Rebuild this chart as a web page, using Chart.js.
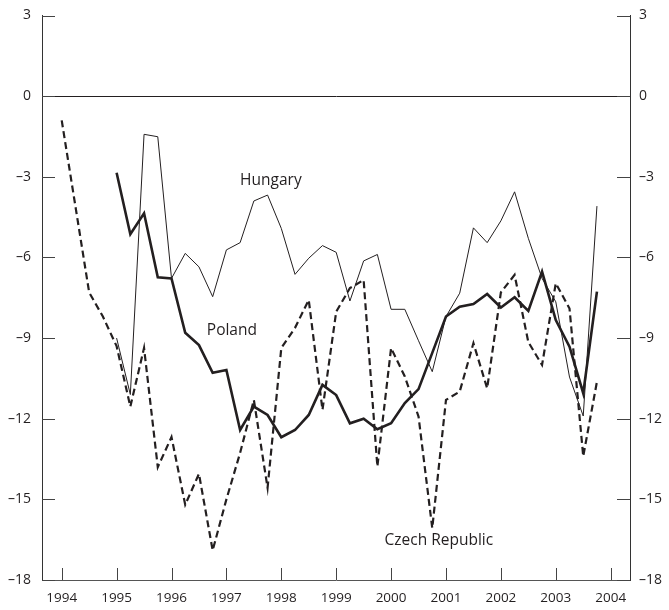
<!DOCTYPE html>
<html>
<head>
<meta charset="utf-8">
<script src="https://cdn.jsdelivr.net/npm/chart.js@4"></script>
<style>
  html, body { margin: 0; padding: 0; background: #fff; }
  #wrap { width: 669px; height: 610px; }
</style>
</head>
<body>
<div id="wrap"><canvas id="c" width="669" height="610"></canvas></div>
<script>
// ---- Data (quarterly) ----
const yearTicks = [1994, 1995, 1996, 1997, 1998, 1999, 2000, 2001, 2002, 2003, 2004];
const yTicks = [3, 0, -3, -6, -9, -12, -15, -18];

const czechStart = 1994.0;
const czechValues = [
  -0.9, -4.1, -7.3, -8.2,
  -9.3, -11.55, -9.37, -13.8,
  -12.68, -15.2, -14.05, -16.9,
  -15.0, -13.27, -11.3, -14.57,
  -9.37, -8.62, -7.58, -11.67,
  -8.02, -7.14, -6.84, -13.78,
  -9.37, -10.43, -11.92, -16.07,
  -11.3, -10.99, -9.19, -10.87,
  -7.3, -6.65, -9.15, -10.0,
  -6.96, -7.9, -13.4, -10.62
];

const polandStart = 1995.0;
const polandValues = [
  -2.85, -5.14, -4.36, -6.74,
  -6.78, -8.8, -9.26, -10.29,
  -10.19, -12.42, -11.55, -11.86,
  -12.69, -12.42, -11.86, -10.74,
  -11.12, -12.17, -12.0, -12.39,
  -12.17, -11.42, -10.9, -9.55,
  -8.2, -7.83, -7.73, -7.36,
  -7.86, -7.48, -7.99, -6.53,
  -8.33, -9.32, -11.05, -7.27
];

const hungaryStart = 1995.0;
const hungaryValues = [
  -9.0, -11.1, -1.42, -1.51,
  -6.78, -5.85, -6.35, -7.46,
  -5.72, -5.45, -3.9, -3.68,
  -4.92, -6.63, -6.03, -5.56,
  -5.81, -7.62, -6.13, -5.89,
  -7.93, -7.93, -9.1, -10.25,
  -8.2, -7.33, -4.9, -5.45,
  -4.64, -3.56, -5.29, -6.78,
  -7.65, -10.45, -11.9, -4.09
];

const seriesLabels = ['Hungary', 'Poland', 'Czech Republic'];
// label anchor points in data space [x (year), y (value)]
const labelAnchors = [[1997.81, -3.15], [1997.10, -8.73], [2000.87, -16.55]];

function toPoints(start, values) {
  return values.map((v, i) => ({ x: start + i * 0.25, y: v }));
}

const INK = '#231f20';
const FONT = "'Open Sans', 'DejaVu Sans', sans-serif";
const fmt = v => (v < 0 ? '\u2013' + Math.abs(v) : String(v));

const innerTicks = {
  id: 'innerTicks',
  afterDraw(chart) {
    const { ctx, chartArea: a, scales } = chart;
    ctx.save();
    ctx.strokeStyle = '#444';
    ctx.lineWidth = 1;
    ctx.beginPath();
    yTicks.forEach(v => {
      const y = Math.round(scales.y.getPixelForValue(v)) + 0.5;
      ctx.moveTo(a.left, y); ctx.lineTo(a.left + 13, y);
      ctx.moveTo(a.right - 13, y); ctx.lineTo(a.right, y);
    });
    yearTicks.forEach(v => {
      const x = Math.round(scales.x.getPixelForValue(v)) + 0.5;
      ctx.moveTo(x, a.bottom); ctx.lineTo(x, a.bottom - 12);
    });
    ctx.stroke();
    // series name labels
    ctx.fillStyle = INK;
    ctx.font = "15.5px " + FONT;
    ctx.textAlign = 'center';
    ctx.textBaseline = 'middle';
    seriesLabels.forEach((t, i) => {
      const [lx, ly] = labelAnchors[i];
      ctx.fillText(t, scales.x.getPixelForValue(lx), scales.y.getPixelForValue(ly));
    });
    ctx.restore();
  }
};

const fitY = w => s => { s.width = w; s.paddingTop = 0; s.paddingBottom = 0; };

new Chart(document.getElementById('c'), {
  type: 'line',
  data: {
    datasets: [
      { label: 'Hungary', data: toPoints(hungaryStart, hungaryValues),
        borderColor: INK, borderWidth: 1, pointRadius: 0, tension: 0 },
      { label: 'Poland', data: toPoints(polandStart, polandValues),
        borderColor: INK, borderWidth: 2.6, pointRadius: 0, tension: 0 },
      { label: 'Czech Republic', data: toPoints(czechStart, czechValues),
        borderColor: INK, borderWidth: 2.2, borderDash: [7, 4], pointRadius: 0, tension: 0 }
    ]
  },
  options: {
    responsive: false,
    animation: false,
    devicePixelRatio: 1,
    layout: { padding: { top: 15.5, left: 0, right: 0, bottom: 0 } },
    plugins: { legend: { display: false }, tooltip: { enabled: false } },
    scales: {
      x: {
        type: 'linear', min: 1993.641, max: 2004.352,
        afterBuildTicks: s => { s.ticks = yearTicks.map(v => ({ value: v })); },
        afterFit: s => { s.height = 30; s.paddingLeft = 0; s.paddingRight = 0; },
        grid: { display: false, drawTicks: false },
        border: { display: true, color: '#555', width: 1 },
        ticks: { padding: 10, color: INK, font: { family: FONT, size: 13.5 },
                 maxRotation: 0, autoSkip: false, callback: v => String(v) }
      },
      y: {
        type: 'linear', min: -18, max: 3, position: 'left',
        afterBuildTicks: s => { s.ticks = yTicks.map(v => ({ value: v })); },
        afterFit: fitY(42),
        grid: { drawTicks: false, color: c => (c.tick && c.tick.value === 0 ? INK : 'rgba(0,0,0,0)') },
        border: { display: true, color: '#333', width: 1 },
        ticks: { padding: 11, color: INK, font: { family: FONT, size: 14 }, callback: fmt }
      },
      y2: {
        type: 'linear', min: -18, max: 3, position: 'right',
        afterBuildTicks: s => { s.ticks = yTicks.map(v => ({ value: v })); },
        afterFit: fitY(39),
        grid: { display: false, drawTicks: false },
        border: { display: true, color: '#333', width: 1 },
        ticks: { padding: 9, color: INK, font: { family: FONT, size: 14 }, callback: fmt }
      }
    }
  },
  plugins: [innerTicks]
});
</script>
</body>
</html>
